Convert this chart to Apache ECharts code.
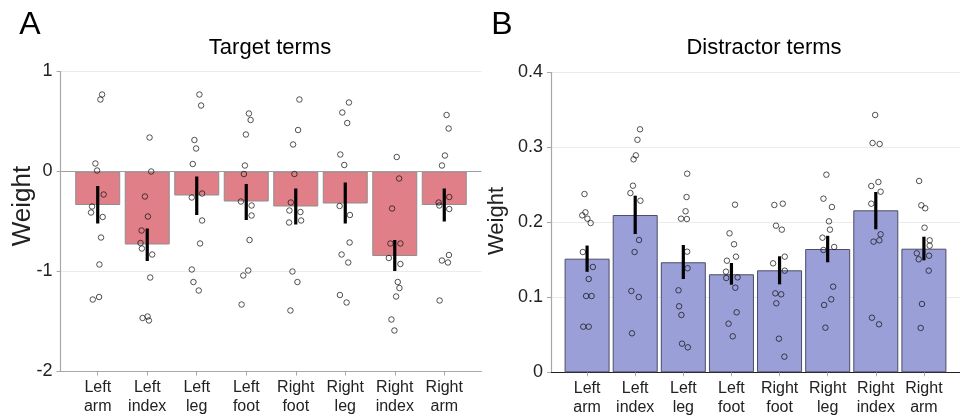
<!DOCTYPE html>
<html>
<head>
<meta charset="utf-8">
<script src="https://cdn.jsdelivr.net/npm/echarts@6/dist/echarts.min.js"></script>
<style>
  html, body { margin: 0; padding: 0; background: #fff; }
  #chart { width: 960px; height: 420px; }
</style>
</head>
<body>
<div id="chart"></div>
<script>
const font = 'Liberation Sans, Arial, Helvetica, sans-serif';
const cats = ['Left\narm', 'Left\nindex', 'Left\nleg', 'Left\nfoot', 'Right\nfoot', 'Right\nleg', 'Right\nindex', 'Right\narm'];

// A - target terms
const targetMean = [-0.335, -0.73, -0.24, -0.30, -0.35, -0.32, -0.845, -0.335];
const targetLow  = [-0.52, -0.895, -0.435, -0.485, -0.53, -0.52, -0.995, -0.50];
const targetHigh = [-0.145, -0.57, -0.05, -0.125, -0.17, -0.11, -0.685, -0.17];
// individual subjects: [x jitter, weight] per category
const targetPts = [
  [[0.088,0.77],[0.054,0.72],[-0.047,0.08],[-0.013,0.01],[0.12,-0.23],[-0.114,-0.35],[-0.135,-0.41],[0.10,-0.455],[0.067,-0.66],[0.034,-0.93],[0.027,-1.255],[-0.10,-1.28]],
  [[0.047,0.34],[0.08,0.0],[-0.047,-0.25],[0.013,-0.45],[-0.114,-0.59],[-0.135,-0.715],[-0.108,-0.77],[0.10,-0.83],[0.06,-1.06],[0.007,-1.45],[-0.094,-1.465],[0.034,-1.49]],
  [[0.054,0.77],[0.088,0.66],[-0.047,0.315],[-0.013,0.23],[-0.08,0.075],[0.108,-0.22],[-0.10,-0.26],[0.108,-0.49],[0.067,-0.72],[-0.10,-0.98],[-0.067,-1.105],[0.04,-1.19]],
  [[0.054,0.58],[0.088,0.515],[-0.007,0.37],[-0.027,0.06],[-0.047,-0.025],[-0.108,-0.30],[0.108,-0.34],[0.108,-0.44],[0.067,-0.685],[0.04,-0.99],[-0.06,-1.04],[-0.094,-1.33]],
  [[0.074,0.72],[0.047,0.415],[-0.054,0.27],[-0.027,-0.025],[-0.10,-0.31],[-0.128,-0.39],[0.094,-0.405],[-0.135,-0.51],[0.108,-0.49],[-0.067,-1.0],[0.034,-1.105],[-0.108,-1.39]],
  [[0.074,0.69],[-0.06,0.59],[0.04,0.485],[-0.10,0.17],[-0.02,0.065],[-0.114,-0.345],[0.094,-0.435],[0.088,-0.71],[-0.074,-0.83],[0.06,-0.91],[-0.108,-1.235],[0.027,-1.31]],
  [[0.04,0.145],[0.088,-0.07],[-0.054,-0.37],[-0.088,-0.72],[0.114,-0.72],[-0.12,-0.865],[0.114,-0.925],[0.06,-1.105],[0.094,-1.165],[0.027,-1.25],[-0.067,-1.48],[-0.007,-1.59]],
  [[0.047,0.565],[0.088,0.43],[0.013,0.16],[-0.047,0.06],[0.10,-0.255],[-0.114,-0.31],[-0.10,-0.34],[0.10,-0.375],[0.094,-0.835],[-0.047,-0.89],[0.074,-0.91],[-0.094,-1.29]]
];

// B - distractor terms
const distrMean = [0.1515, 0.2097, 0.1467, 0.1307, 0.136, 0.1644, 0.216, 0.1648];
const distrLow  = [0.134, 0.1844, 0.1244, 0.1168, 0.1173, 0.1467, 0.1907, 0.1493];
const distrHigh = [0.169, 0.2355, 0.1697, 0.1457, 0.1547, 0.182, 0.2404, 0.1808];
const distrPts = [
  [[-0.054,0.2377],[-0.034,0.2133],[-0.10,0.2093],[0.007,0.2048],[0.074,0.199],[-0.088,0.1604],[0.12,0.1404],[0.034,0.1244],[-0.02,0.1017],[0.094,0.1017],[-0.08,0.0608],[0.034,0.0608]],
  [[0.10,0.324],[0.047,0.310],[0.013,0.2893],[-0.034,0.284],[-0.047,0.2488],[-0.10,0.239],[0.108,0.2288],[0.08,0.1764],[-0.013,0.1604],[-0.08,0.1084],[0.074,0.1004],[-0.067,0.052]],
  [[0.08,0.2648],[0.067,0.2337],[0.047,0.2147],[-0.047,0.2048],[0.074,0.2044],[0.08,0.1608],[0.088,0.1387],[-0.10,0.1093],[-0.088,0.088],[-0.04,0.0764],[-0.027,0.0382],[0.094,0.0333]],
  [[0.074,0.2235],[-0.04,0.1853],[0.054,0.1707],[0.094,0.1542],[-0.094,0.1488],[-0.114,0.1342],[-0.108,0.1257],[0.128,0.1266],[0.08,0.1128],[0.108,0.08],[-0.06,0.0648],[0.027,0.048]],
  [[-0.108,0.2231],[0.067,0.2248],[-0.074,0.1955],[0.047,0.1902],[0.108,0.1542],[-0.135,0.1453],[0.108,0.1355],[-0.088,0.1053],[0.034,0.104],[-0.067,0.092],[-0.013,0.0448],[0.10,0.0208]],
  [[-0.027,0.2635],[-0.088,0.2315],[0.088,0.2204],[0.027,0.2013],[0.047,0.1902],[-0.108,0.1795],[0.135,0.1671],[-0.088,0.1631],[0.114,0.1142],[0.074,0.0973],[-0.074,0.0897],[-0.047,0.0595]],
  [[-0.013,0.3431],[-0.067,0.3057],[0.08,0.3044],[0.054,0.2537],[-0.094,0.2484],[0.10,0.2408],[-0.094,0.2248],[0.10,0.184],[-0.047,0.1742],[0.074,0.176],[-0.08,0.0728],[0.067,0.064]],
  [[-0.10,0.2551],[-0.054,0.2227],[0.027,0.2187],[0.013,0.1928],[0.12,0.176],[0.12,0.1688],[-0.148,0.1587],[0.108,0.1555],[-0.108,0.1507],[0.10,0.1355],[-0.04,0.0911],[-0.067,0.0591]]
];

const tickIdx = [0, 1, 2, 3, 4, 5, 6, 7];

function xAxisFor(gridIndex) {
  return {
    type: 'value', gridIndex: gridIndex, min: -0.75, max: 7.75,
    axisLine: { onZero: false, lineStyle: { color: gridIndex === 0 ? '#a8a8a8' : '#222', width: 1.2 } },
    axisTick: { customValues: tickIdx, length: 4, lineStyle: { color: '#a8a8a8' } },
    axisLabel: {
      customValues: tickIdx, formatter: v => cats[v], margin: 7,
      color: '#222', fontSize: 16, lineHeight: 19, fontFamily: font
    },
    splitLine: { show: false }
  };
}

function yAxisFor(gridIndex, min, max, interval) {
  return {
    type: 'value', gridIndex: gridIndex, min: min, max: max, interval: interval,
    axisLine: { show: true, onZero: false, lineStyle: { color: '#a8a8a8', width: 1.2 } },
    axisTick: { show: true, length: 4, lineStyle: { color: '#a8a8a8' } },
    axisLabel: { color: '#222', fontSize: 18, margin: 8, fontFamily: font },
    splitLine: { show: true, lineStyle: { color: '#ebebeb', width: 1 } }
  };
}

function errSeries(idx, low, high) {
  return {
    type: 'custom', xAxisIndex: idx, yAxisIndex: idx, z: 4,
    data: low.map((l, i) => [i, l, high[i]]),
    renderItem: function (params, api) {
      const p1 = api.coord([api.value(0), api.value(1)]);
      const p2 = api.coord([api.value(0), api.value(2)]);
      return { type: 'line', shape: { x1: p1[0], y1: p1[1], x2: p2[0], y2: p2[1] },
               style: { stroke: '#000', lineWidth: 3.2 } };
    }
  };
}

function ptSeries(idx, pts) {
  const data = [];
  pts.forEach((list, i) => list.forEach(p => data.push([i + p[0], p[1]])));
  return {
    type: 'scatter', xAxisIndex: idx, yAxisIndex: idx, z: 5,
    symbol: 'circle', symbolSize: 5.5, data: data,
    itemStyle: { color: 'rgba(255,255,255,0)', borderColor: '#111', borderWidth: 0.9 }
  };
}

const chart = echarts.init(document.getElementById('chart'), null, { renderer: 'canvas' });
chart.setOption({
  backgroundColor: '#fff',
  animation: false,
  grid: [
    { left: 60.6, right: 478.6, top: 71.5, height: 300 },
    { left: 551, right: -12, top: 72.3, height: 300 }
  ],
  xAxis: [xAxisFor(0), xAxisFor(1)],
  yAxis: [yAxisFor(0, -2, 1, 1), yAxisFor(1, 0, 0.4, 0.1)],
  graphic: [
    { type: 'text', x: 30, y: 25, style: { text: 'A', font: '32px ' + font, fill: '#000', textAlign: 'center', textVerticalAlign: 'middle' } },
    { type: 'text', x: 502, y: 25, style: { text: 'B', font: '32px ' + font, fill: '#000', textAlign: 'center', textVerticalAlign: 'middle' } },
    { type: 'text', x: 270, y: 48, style: { text: 'Target terms', font: '22px ' + font, fill: '#000', textAlign: 'center', textVerticalAlign: 'middle' } },
    { type: 'text', x: 764, y: 48, style: { text: 'Distractor terms', font: '22px ' + font, fill: '#000', textAlign: 'center', textVerticalAlign: 'middle' } },
    { type: 'text', x: 23, y: 206, rotation: Math.PI / 2, style: { text: 'Weight', font: '26px ' + font, fill: '#222', textAlign: 'center', textVerticalAlign: 'middle' } },
    { type: 'text', x: 497, y: 221, rotation: Math.PI / 2, style: { text: 'Weight', font: '22px ' + font, fill: '#222', textAlign: 'center', textVerticalAlign: 'middle' } }
  ],
  series: [
    {
      type: 'bar', xAxisIndex: 0, yAxisIndex: 0, barWidth: 45, z: 2,
      data: targetMean.map((v, i) => [i, v]),
      itemStyle: { color: '#e07f88', borderColor: '#8e8e8e', borderWidth: 1 },
      markLine: {
        silent: true, symbol: 'none', label: { show: false },
        lineStyle: { color: '#a0a0a0', type: 'solid', width: 1.2 },
        data: [{ yAxis: 0 }]
      }
    },
    errSeries(0, targetLow, targetHigh),
    ptSeries(0, targetPts),
    {
      type: 'bar', xAxisIndex: 1, yAxisIndex: 1, barWidth: 45, z: 2,
      data: distrMean.map((v, i) => [i, v]),
      itemStyle: { color: '#9a9fd7', borderColor: '#4a4d66', borderWidth: 1 }
    },
    errSeries(1, distrLow, distrHigh),
    ptSeries(1, distrPts)
  ]
});
</script>
</body>
</html>
